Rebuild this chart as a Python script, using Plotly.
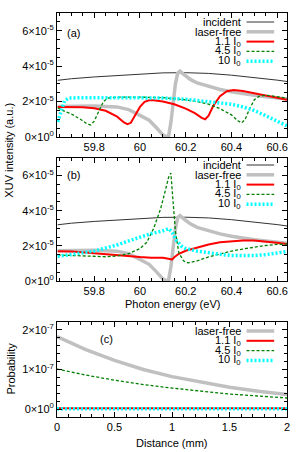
import plotly.graph_objects as go

# ---------------- data ----------------
# Panel (a) and (b): photon energy (eV), intensities in units of 1e-5
inc_E = [59.64, 59.7, 59.8, 59.9, 60.0, 60.1, 60.2, 60.3, 60.4, 60.5, 60.6, 60.645]
inc_I = [3.20, 3.29, 3.39, 3.48, 3.57, 3.62, 3.63, 3.59, 3.49, 3.37, 3.21, 3.13]

lf_E = [59.64, 59.7, 59.8, 59.9, 59.95, 60.0, 60.04, 60.07, 60.1, 60.115, 60.125, 60.135,
        60.145, 60.155, 60.165, 60.175, 60.19, 60.22, 60.25, 60.3, 60.35, 60.4, 60.45,
        60.5, 60.55, 60.6, 60.645]
lf_I = [1.72, 1.74, 1.75, 1.70, 1.55, 1.22, 0.95, 0.55, 0.12, 0.02, 0.05, 0.8,
        2.0, 3.0, 3.6, 3.72, 3.55, 3.25, 3.05, 2.85, 2.68, 2.55, 2.44,
        2.35, 2.27, 2.2, 2.14]

a_red_E = [59.64, 59.7, 59.75, 59.8, 59.85, 59.9, 59.93, 59.945, 59.96, 59.98, 60.0, 60.02,
           60.04, 60.06, 60.1, 60.15, 60.2, 60.24, 60.27, 60.285, 60.3, 60.32, 60.35, 60.38,
           60.41, 60.45, 60.5, 60.55, 60.6, 60.645]
a_red_I = [1.70, 1.70, 1.68, 1.62, 1.48, 1.15, 0.82, 0.72, 0.80, 1.25, 1.70, 1.98,
           2.07, 2.07, 2.00, 1.85, 1.60, 1.35, 1.08, 1.00, 1.20, 1.75, 2.30, 2.58,
           2.65, 2.60, 2.48, 2.35, 2.22, 2.10]

a_grn_E = [59.64, 59.66, 59.7, 59.74, 59.77, 59.785, 59.8, 59.82, 59.84, 59.86, 59.9, 60.0,
           60.1, 60.2, 60.25, 60.3, 60.35, 60.4, 60.43, 60.445, 60.46, 60.48, 60.5, 60.52,
           60.55, 60.6, 60.645]
a_grn_I = [1.65, 1.50, 1.30, 1.00, 0.72, 0.68, 0.90, 1.50, 2.00, 2.20, 2.25, 2.25,
           2.22, 2.10, 2.00, 1.85, 1.60, 1.25, 0.90, 0.80, 1.00, 1.60, 2.10, 2.30,
           2.36, 2.28, 2.18]

a_cyn_E = [59.64, 59.65, 59.66, 59.67, 59.69, 59.75, 59.9, 60.0, 60.1, 60.2, 60.3, 60.4,
           60.45, 60.5, 60.55, 60.6, 60.645]
a_cyn_I = [0.85, 1.30, 1.75, 2.05, 2.20, 2.22, 2.22, 2.22, 2.20, 2.13, 2.00, 1.85,
           1.70, 1.50, 1.20, 0.90, 0.62]

b_red_E = [59.64, 59.7, 59.8, 59.9, 60.0, 60.05, 60.1, 60.13, 60.14, 60.15, 60.17, 60.2,
           60.25, 60.3, 60.35, 60.4, 60.45, 60.5, 60.55, 60.6, 60.645]
b_red_I = [1.70, 1.68, 1.58, 1.45, 1.36, 1.33, 1.32, 1.25, 1.22, 1.35, 1.55, 1.72,
           1.92, 2.08, 2.20, 2.27, 2.30, 2.30, 2.25, 2.17, 2.10]

b_grn_E = [59.64, 59.7, 59.8, 59.85, 59.9, 59.95, 60.0, 60.03, 60.06, 60.09, 60.11, 60.125,
           60.135, 60.145, 60.155, 60.17, 60.19, 60.21, 60.25, 60.3, 60.35, 60.4, 60.45,
           60.5, 60.55, 60.6, 60.645]
b_grn_I = [1.48, 1.45, 1.40, 1.38, 1.42, 1.55, 1.85, 2.20, 3.00, 4.10, 5.10, 5.90,
           6.15, 4.60, 2.80, 1.60, 1.15, 1.03, 1.15, 1.37, 1.55, 1.70, 1.82,
           1.93, 2.02, 2.08, 2.10]

b_cyn_E = [59.64, 59.7, 59.75, 59.8, 59.85, 59.9, 59.95, 60.0, 60.05, 60.1, 60.125, 60.14,
           60.16, 60.18, 60.2, 60.25, 60.3, 60.35, 60.4, 60.45, 60.5, 60.55, 60.6, 60.645]
b_cyn_I = [1.40, 1.50, 1.58, 1.70, 1.88, 2.05, 2.28, 2.50, 2.70, 2.85, 2.98, 2.80,
           2.30, 2.00, 1.85, 1.70, 1.60, 1.52, 1.45, 1.43, 1.45, 1.50, 1.60, 1.68]

# Panel (c): distance (mm), probability in units of 1e-7
dist = [0, 0.25, 0.5, 0.75, 1.0, 1.25, 1.5, 1.75, 2.0]
c_lf = [1.83, 1.50, 1.23, 1.00, 0.82, 0.68, 0.55, 0.45, 0.37]
c_red = [0.02, 0.02, 0.02, 0.02, 0.02, 0.02, 0.02, 0.02, 0.02]
c_grn = [1.01, 0.86, 0.73, 0.62, 0.53, 0.45, 0.38, 0.33, 0.28]
c_cyn = [0.01, 0.01, 0.01, 0.01, 0.01, 0.01, 0.01, 0.01, 0.01]

e_ticks = [59.8, 60.0, 60.2, 60.4, 60.6]
e_tick_text = ["59.8", "60", "60.2", "60.4", "60.6"]
i_ticks = [0, 2, 4, 6]
i_tick_text = ["0×10<sup>0</sup>", "2×10<sup>-5</sup>", "4×10<sup>-5</sup>", "6×10<sup>-5</sup>"]
d_ticks = [0, 0.5, 1, 1.5, 2]
d_tick_text = ["0", "0.5", "1", "1.5", "2"]
p_ticks = [0, 1, 2]
p_tick_text = ["0×10<sup>0</sup>", "1×10<sup>-7</sup>", "2×10<sup>-7</sup>"]

names = ["incident", "laser-free", "1.1 I<sub>0</sub>", "4.5 I<sub>0</sub>", "10 I<sub>0</sub>"]

# ---------------- styles ----------------
FONT = "Liberation Sans, Arial, sans-serif"
st_inc = dict(color="#333333", width=1)
st_lf = dict(color="#c0c0c0", width=3.5)
st_red = dict(color="#ff0000", width=2)
st_grn = dict(color="#008000", width=1.3, dash="3px,2px")
st_cyn = dict(color="#00ffff", width=3.5, dash="2px,2px")

W, H = 300, 452
ML, MR, MT, MB = 57, 10, 13, 35
PW = W - ML - MR
PH = H - MT - MB


def py2paper(py):
    return (H - MB - py) / PH


def px2paper(px):
    return (px - ML) / PW


fig = go.Figure()

def add(x, y, line, xa, ya):
    fig.add_trace(go.Scatter(x=x, y=y, mode="lines", line=line, xaxis=xa, yaxis=ya,
                             showlegend=False, hoverinfo="skip"))

# panel a
add(inc_E, inc_I, st_inc, "x", "y")
add(lf_E, lf_I, st_lf, "x", "y")
add(a_red_E, a_red_I, st_red, "x", "y")
add(a_grn_E, a_grn_I, st_grn, "x", "y")
add(a_cyn_E, a_cyn_I, st_cyn, "x", "y")
# panel b
add(inc_E, inc_I, st_inc, "x2", "y2")
add(lf_E, lf_I, st_lf, "x2", "y2")
add(b_red_E, b_red_I, st_red, "x2", "y2")
add(b_grn_E, b_grn_I, st_grn, "x2", "y2")
add(b_cyn_E, b_cyn_I, st_cyn, "x2", "y2")
# panel c
add(dist, c_lf, st_lf, "x3", "y3")
add(dist, c_red, st_red, "x3", "y3")
add(dist, c_grn, st_grn, "x3", "y3")
add(dist, c_cyn, st_cyn, "x3", "y3")

tickfont = dict(family=FONT, size=11, color="black")


def axis_common(**kw):
    d = dict(showline=True, linecolor="black", linewidth=1, mirror="allticks",
             ticks="inside", ticklen=5, tickwidth=1, tickcolor="black",
             showgrid=False, zeroline=False, tickfont=tickfont, fixedrange=True)
    d.update(kw)
    return d

dom_a = [py2paper(137), py2paper(13)]
dom_b = [py2paper(281), py2paper(158)]
dom_c = [py2paper(417), py2paper(322)]

erange = [59.637, 60.643]
fig.update_layout(
    width=W, height=H, margin=dict(l=ML, r=MR, t=MT, b=MB),
    paper_bgcolor="white", plot_bgcolor="white",
    font=dict(family=FONT, size=11, color="black"),
    xaxis=axis_common(domain=[0, 1], range=erange, tickvals=e_ticks, ticktext=e_tick_text,
                      anchor="y", minor=dict(ticks="inside", dtick=0.05, tick0=59.6, ticklen=3,
                                             tickcolor="black")),
    yaxis=axis_common(domain=dom_a, range=[0, 7], tickvals=i_ticks, ticktext=i_tick_text,
                      anchor="x", minor=dict(ticks="inside", dtick=0.5, tick0=0, ticklen=3,
                                             tickcolor="black")),
    xaxis2=axis_common(domain=[0, 1], range=erange, tickvals=e_ticks, ticktext=e_tick_text,
                       anchor="y2", minor=dict(ticks="inside", dtick=0.05, tick0=59.6, ticklen=3,
                                               tickcolor="black")),
    yaxis2=axis_common(domain=dom_b, range=[0, 7], tickvals=i_ticks, ticktext=i_tick_text,
                       anchor="x2", minor=dict(ticks="inside", dtick=0.5, tick0=0, ticklen=3,
                                               tickcolor="black")),
    xaxis3=axis_common(domain=[0, 1], range=[0, 2], tickvals=d_ticks, ticktext=d_tick_text,
                       anchor="y3", minor=dict(ticks="inside", dtick=0.1, tick0=0, ticklen=3,
                                               tickcolor="black")),
    yaxis3=axis_common(domain=dom_c, range=[-0.2, 2.2], tickvals=p_ticks, ticktext=p_tick_text,
                       anchor="x3", minor=dict(ticks="inside", dtick=0.2, tick0=0, ticklen=3,
                                               tickcolor="black")),
)

ann = []
shapes = []
txt_font = dict(family=FONT, size=11, color="black")

def legend(top_px, entries):
    for k, (label, style) in enumerate(entries):
        yc = top_px + 9 + k * 9.8
        ann.append(dict(xref="paper", yref="paper", x=px2paper(245), y=py2paper(yc),
                        xanchor="right", yanchor="middle", text=label, showarrow=False,
                        font=txt_font))
        ln = dict(color=style["color"], width=style["width"])
        if "dash" in style:
            ln["dash"] = style["dash"]
        shapes.append(dict(type="line", xref="paper", yref="paper",
                           x0=px2paper(249), x1=px2paper(277),
                           y0=py2paper(yc), y1=py2paper(yc), line=ln))

styles5 = [st_inc, st_lf, st_red, st_grn, st_cyn]
legend(13, list(zip(names, styles5)))
legend(156, list(zip(names, styles5)))
legend(322, list(zip(names[1:], styles5[1:])))

# panel labels
ann.append(dict(xref="paper", yref="paper", x=px2paper(74), y=py2paper(33), text="(a)",
                showarrow=False, font=txt_font, xanchor="center", yanchor="middle"))
ann.append(dict(xref="paper", yref="paper", x=px2paper(74), y=py2paper(175), text="(b)",
                showarrow=False, font=txt_font, xanchor="center", yanchor="middle"))
ann.append(dict(xref="paper", yref="paper", x=px2paper(107), y=py2paper(339), text="(c)",
                showarrow=False, font=txt_font, xanchor="center", yanchor="middle"))
# axis titles
ann.append(dict(xref="paper", yref="paper", x=px2paper(8), y=py2paper(150),
                text="XUV intensity (a.u.)", textangle=-90, showarrow=False, font=txt_font,
                xanchor="center", yanchor="middle"))
ann.append(dict(xref="paper", yref="paper", x=px2paper(10), y=py2paper(369),
                text="Probability", textangle=-90, showarrow=False, font=txt_font,
                xanchor="center", yanchor="middle"))
ann.append(dict(xref="paper", yref="paper", x=px2paper(174), y=py2paper(304),
                text="Photon energy (eV)", showarrow=False, font=txt_font,
                xanchor="center", yanchor="middle"))
ann.append(dict(xref="paper", yref="paper", x=px2paper(174), y=py2paper(443),
                text="Distance (mm)", showarrow=False, font=txt_font,
                xanchor="center", yanchor="middle"))

fig.update_layout(annotations=ann, shapes=shapes)
fig.write_html("out.html", config={"displayModeBar": False},
               post_script="document.body.style.margin='0';document.body.style.padding='0';")
